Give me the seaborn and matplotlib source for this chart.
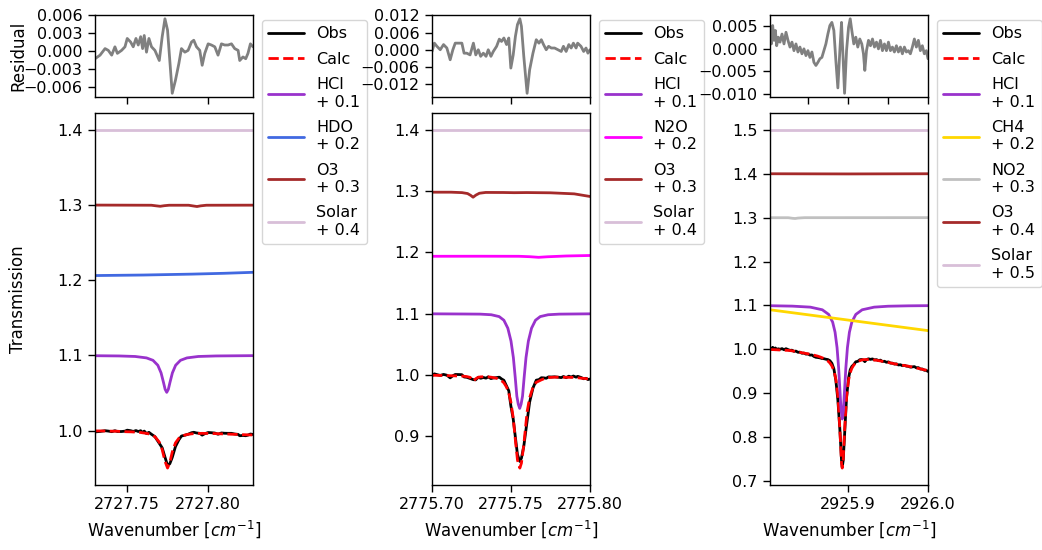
import numpy as np
import matplotlib
matplotlib.use("Agg")
import matplotlib.pyplot as plt
import seaborn as sns

# ---------------- panel 1 : 2727.8 cm-1 window ----------------
wn_1 = [2727.7302, 2727.7333, 2727.7364, 2727.7384, 2727.7405, 2727.7425, 2727.7440, 2727.7466, 2727.7487, 2727.7501,
        2727.7522, 2727.7538, 2727.7555, 2727.7569, 2727.7584, 2727.7596, 2727.7606, 2727.7620, 2727.7635, 2727.7651,
        2727.7672, 2727.7699, 2727.7717, 2727.7734, 2727.7750, 2727.7764, 2727.7779, 2727.7799, 2727.7820, 2727.7836,
        2727.7857, 2727.7877, 2727.7898, 2727.7912, 2727.7929, 2727.7949, 2727.7964, 2727.7980, 2727.8001, 2727.8021,
        2727.8042, 2727.8062, 2727.8083, 2727.8103, 2727.8124, 2727.8145, 2727.8165, 2727.8186, 2727.8196, 2727.8216,
        2727.8233, 2727.8247, 2727.8262, 2727.8278]
calc_1 = [0.9997, 0.9997, 0.9996, 0.9994, 0.9994, 0.9993, 0.9993, 0.9988, 0.9987, 0.9986,
          0.9985, 0.9983, 0.9981, 0.9979, 0.9976, 0.9972, 0.9969, 0.9964, 0.9957, 0.9945,
          0.9920, 0.9848, 0.9748, 0.9596, 0.9503, 0.9577, 0.9715, 0.9838, 0.9900, 0.9925,
          0.9942, 0.9952, 0.9958, 0.9961, 0.9963, 0.9964, 0.9965, 0.9964, 0.9964, 0.9963,
          0.9962, 0.9960, 0.9958, 0.9956, 0.9955, 0.9953, 0.9952, 0.9950, 0.9949, 0.9947,
          0.9946, 0.9945, 0.9944, 0.9943]
resid_1 = [-0.0013, -0.0007, 0.0004, 0.0001, -0.0007, 0.0007, -0.0004, 0.0001, 0.0007, 0.0021,
           0.0015, 0.0007, 0.0021, 0.0010, 0.0024, 0.0004, 0.0026, -0.0002, 0.0021, 0.0007,
           0.0001, -0.0016, 0.0024, 0.0054, 0.0035, -0.0016, -0.0071, -0.0049, -0.0021, 0.0004,
           -0.0002, 0.0001, 0.0015, 0.0018, 0.0007, 0.0001, -0.0024, -0.0004, 0.0012, 0.0010,
           0.0007, -0.0007, 0.0012, 0.0010, 0.0010, 0.0012, 0.0004, 0.0001, -0.0016, -0.0010,
           -0.0013, -0.0004, 0.0012, 0.0007]
hcl_1_wn = [2727.7302, 2727.745, 2727.755, 2727.762, 2727.766, 2727.769, 2727.771, 2727.7725, 2727.7735, 2727.7745,
            2727.7755, 2727.7765, 2727.778, 2727.780, 2727.783, 2727.787, 2727.794, 2727.805, 2727.8278]
hcl_1 = [1.0997, 1.0994, 1.0987, 1.0968, 1.0936, 1.0870, 1.0769, 1.0642, 1.0551, 1.0510,
         1.0551, 1.0642, 1.0769, 1.0870, 1.0936, 1.0968, 1.0987, 1.0994, 1.0998]
hdo_1_wn = [2727.7302, 2727.760, 2727.790, 2727.810, 2727.8278]
hdo_1 = [1.2063, 1.2070, 1.2082, 1.2093, 1.2106]
o3_1_wn = [2727.7302, 2727.765, 2727.768, 2727.7705, 2727.773, 2727.776, 2727.788, 2727.791, 2727.7932, 2727.7955,
           2727.799, 2727.8278]
o3_1 = [1.3000, 1.2998, 1.2990, 1.2984, 1.2992, 1.2998, 1.2998, 1.2988, 1.2981, 1.2990, 1.2998, 1.2999]
solar_1_wn = [2727.7302, 2727.8278]
solar_1 = [1.4000, 1.4000]

# ---------------- panel 2 : 2775.75 cm-1 window ----------------
wn_2 = [2775.7000, 2775.7015, 2775.7031, 2775.7052, 2775.7073, 2775.7094, 2775.7115, 2775.7132, 2775.7147, 2775.7168,
        2775.7189, 2775.7203, 2775.7220, 2775.7241, 2775.7262, 2775.7277, 2775.7293, 2775.7308, 2775.7325, 2775.7342,
        2775.7356, 2775.7373, 2775.7388, 2775.7409, 2775.7426, 2775.7440, 2775.7455, 2775.7472, 2775.7486, 2775.7499,
        2775.7514, 2775.7528, 2775.7541, 2775.7556, 2775.7566, 2775.7581, 2775.7602, 2775.7618, 2775.7639, 2775.7660,
        2775.7677, 2775.7692, 2775.7706, 2775.7723, 2775.7738, 2775.7755, 2775.7776, 2775.7797, 2775.7818, 2775.7832,
        2775.7849, 2775.7866, 2775.7881, 2775.7895, 2775.7912, 2775.7922, 2775.7943, 2775.7960, 2775.7975, 2775.7987,
        2775.8000]
calc_2 = [0.9991, 0.9991, 0.9990, 0.9989, 0.9987, 0.9986, 0.9984, 0.9983, 0.9981, 0.9980,
          0.9978, 0.9975, 0.9970, 0.9957, 0.9896, 0.9935, 0.9959, 0.9965, 0.9967, 0.9967,
          0.9965, 0.9960, 0.9953, 0.9941, 0.9923, 0.9903, 0.9868, 0.9797, 0.9697, 0.9557,
          0.9296, 0.8926, 0.8606, 0.8475, 0.8555, 0.8855, 0.9395, 0.9624, 0.9794, 0.9876,
          0.9897, 0.9916, 0.9931, 0.9942, 0.9953, 0.9957, 0.9960, 0.9960, 0.9959, 0.9959,
          0.9958, 0.9958, 0.9957, 0.9956, 0.9954, 0.9951, 0.9944, 0.9940, 0.9936, 0.9933,
          0.9930]
resid_2 = [-0.0006, 0.0023, 0.0012, 0.0000, 0.0018, 0.0006, -0.0035, 0.0000, 0.0023, 0.0023,
           0.0023, -0.0012, -0.0012, -0.0018, 0.0023, -0.0018, 0.0000, -0.0023, -0.0012, -0.0023,
           0.0000, -0.0023, -0.0006, 0.0012, 0.0037, 0.0029, 0.0041, 0.0018, 0.0041, -0.0064,
           -0.0018, 0.0047, 0.0088, 0.0108, 0.0082, -0.0023, -0.0152, -0.0070, -0.0012, 0.0035,
           0.0023, 0.0035, 0.0018, 0.0000, 0.0012, 0.0006, 0.0006, 0.0000, -0.0006, 0.0012,
           -0.0006, 0.0018, 0.0006, 0.0023, 0.0006, 0.0023, 0.0012, -0.0006, 0.0006, -0.0012,
           0.0000]
hcl_2_wn = [2775.700, 2775.7205, 2775.7305, 2775.7375, 2775.7425, 2775.7455, 2775.748, 2775.750, 2775.7515, 2775.7527,
            2775.7537, 2775.7546, 2775.7555, 2775.7564, 2775.7573, 2775.7583, 2775.7595, 2775.761, 2775.763, 2775.7655,
            2775.7685, 2775.7735, 2775.7805, 2775.800]
hcl_2 = [1.0995, 1.0992, 1.0990, 1.0980, 1.0950, 1.0890, 1.0760, 1.0550, 1.0280, 0.9950,
         0.9650, 0.9520, 0.9450, 0.9520, 0.9650, 0.9950, 1.0280, 1.0550, 1.0760, 1.0890,
         1.0950, 1.0980, 1.0990, 1.0995]
n2o_2_wn = [2775.700, 2775.730, 2775.755, 2775.762, 2775.7675, 2775.773, 2775.785, 2775.800]
n2o_2 = [1.1935, 1.1936, 1.1935, 1.1928, 1.1918, 1.1927, 1.1940, 1.1948]
o3_2_wn = [2775.700, 2775.712, 2775.719, 2775.7225, 2775.7245, 2775.7260, 2775.7278, 2775.7300, 2775.734, 2775.745,
           2775.752, 2775.760, 2775.775, 2775.790, 2775.800]
o3_2 = [1.2982, 1.2982, 1.2975, 1.2960, 1.2930, 1.2900, 1.2935, 1.2965, 1.2978, 1.2977,
        1.2974, 1.2976, 1.2972, 1.2955, 1.2912]
solar_2_wn = [2775.700, 2775.800]
solar_2 = [1.4000, 1.4000]

# ---------------- panel 3 : 2925.9 cm-1 window ----------------
wn_3 = [2925.8020, 2925.8037, 2925.8053, 2925.8070, 2925.8087, 2925.8103, 2925.8124, 2925.8145, 2925.8170, 2925.8195,
        2925.8220, 2925.8245, 2925.8270, 2925.8295, 2925.8320, 2925.8345, 2925.8370, 2925.8395, 2925.8420, 2925.8445,
        2925.8470, 2925.8495, 2925.8520, 2925.8545, 2925.8570, 2925.8595, 2925.8620, 2925.8645, 2925.8670, 2925.8695,
        2925.8720, 2925.8745, 2925.8770, 2925.8795, 2925.8820, 2925.8845, 2925.8870, 2925.8895, 2925.8916, 2925.8925, 2925.8937,
        2925.8954, 2925.8979, 2925.9004, 2925.9025, 2925.9045, 2925.9070, 2925.9095, 2925.9120, 2925.9145, 2925.9170,
        2925.9191, 2925.9208, 2925.9229, 2925.9254, 2925.9279, 2925.9304, 2925.9329, 2925.9354, 2925.9379, 2925.9404,
        2925.9429, 2925.9454, 2925.9479, 2925.9504, 2925.9529, 2925.9554, 2925.9579, 2925.9604, 2925.9629, 2925.9654,
        2925.9679, 2925.9704, 2925.9729, 2925.9754, 2925.9779, 2925.9804, 2925.9829, 2925.9854, 2925.9879, 2925.9904,
        2925.9929, 2925.9954, 2925.9979, 2926.0000]
calc_3 = [0.9995, 0.9994, 0.9992, 0.9991, 0.9989, 0.9988, 0.9985, 0.9984, 0.9982, 0.9979,
          0.9976, 0.9974, 0.9971, 0.9964, 0.9956, 0.9947, 0.9938, 0.9930, 0.9920, 0.9913,
          0.9904, 0.9896, 0.9886, 0.9877, 0.9866, 0.9854, 0.9842, 0.9826, 0.9809, 0.9789,
          0.9762, 0.9732, 0.9688, 0.9622, 0.9513, 0.9318, 0.8934, 0.8182, 0.7408, 0.7292, 0.7491,
          0.8138, 0.8902, 0.9294, 0.9466, 0.9566, 0.9642, 0.9689, 0.9720, 0.9740, 0.9756,
          0.9764, 0.9766, 0.9766, 0.9764, 0.9762, 0.9758, 0.9754, 0.9749, 0.9741, 0.9733,
          0.9725, 0.9716, 0.9707, 0.9698, 0.9688, 0.9679, 0.9669, 0.9660, 0.9649, 0.9644,
          0.9636, 0.9630, 0.9622, 0.9614, 0.9604, 0.9594, 0.9583, 0.9573, 0.9563, 0.9553,
          0.9543, 0.9533, 0.9523, 0.9515]
resid_3 = [0.0037, 0.0011, 0.0052, 0.0019, 0.0041, 0.0007, 0.0026, 0.0015, 0.0033, 0.0011,
           0.0037, 0.0019, 0.0004, 0.0015, -0.0004, 0.0011, -0.0007, 0.0004, -0.0011, 0.0000,
           -0.0015, -0.0004, -0.0019, -0.0007, -0.0030, -0.0037, -0.0030, -0.0022, -0.0019, -0.0004,
           0.0011, 0.0033, 0.0052, 0.0059, 0.0041, -0.0026, -0.0087, -0.0004, 0.0059, 0.0020, -0.0026,
           -0.0099, -0.0004, 0.0048, 0.0067, 0.0041, 0.0011, 0.0026, 0.0004, 0.0022, 0.0011,
           -0.0011, -0.0048, -0.0004, 0.0019, 0.0007, 0.0022, 0.0004, 0.0015, 0.0000, 0.0019,
           -0.0004, 0.0011, -0.0004, 0.0015, -0.0004, 0.0004, -0.0007, 0.0007, -0.0007, 0.0004,
           -0.0011, 0.0004, -0.0007, -0.0004, -0.0011, 0.0004, 0.0022, 0.0004, 0.0019, -0.0004,
           0.0007, -0.0011, -0.0004, -0.0022]
hcl_3_wn = [2925.803, 2925.830, 2925.8525, 2925.8675, 2925.8755, 2925.8805, 2925.8835, 2925.886, 2925.888, 2925.8895,
            2925.891, 2925.8925, 2925.894, 2925.8955, 2925.897, 2925.899, 2925.9015, 2925.9045, 2925.9095, 2925.9175,
            2925.9325, 2925.950, 2925.975, 2926.000]
hcl_3 = [1.0992, 1.0983, 1.0960, 1.0900, 1.0794, 1.0617, 1.0389, 1.0037, 0.9569, 0.9096,
         0.8624, 0.8410, 0.8624, 0.9096, 0.9569, 1.0037, 1.0389, 1.0617, 1.0794, 1.0900,
         1.0960, 1.0981, 1.0990, 1.0994]
ch4_3_wn = [2925.802, 2925.900, 2926.000]
ch4_3 = [1.0900, 1.0665, 1.0425]
no2_3_wn = [2925.802, 2925.825, 2925.830, 2925.8335, 2925.837, 2925.845, 2926.000]
no2_3 = [1.2998, 1.2998, 1.2985, 1.2980, 1.2990, 1.2999, 1.3000]
o3_3_wn = [2925.802, 2925.900, 2926.000]
o3_3 = [1.4000, 1.3996, 1.4000]
solar_3_wn = [2925.802, 2926.000]
solar_3 = [1.5000, 1.5000]

sns.set_style("ticks", {"axes.edgecolor": "black", "xtick.color": "black", "ytick.color": "black",
                        "text.color": "black", "axes.labelcolor": "black"})
plt.rcParams["font.family"] = ["DejaVu Sans"]
plt.rcParams["font.size"] = 11.5
plt.rcParams["axes.labelsize"] = 12
plt.rcParams["axes.linewidth"] = 1.0
plt.rcParams["xtick.major.size"] = 5
plt.rcParams["ytick.major.size"] = 5
plt.rcParams["xtick.major.width"] = 1.0
plt.rcParams["ytick.major.width"] = 1.0
plt.rcParams["xtick.major.pad"] = 4
plt.rcParams["ytick.major.pad"] = 4

fig = plt.figure(figsize=(10.42, 5.5), dpi=100)


def draw_panel(left, wn, calc, resid, species, res_yticks, res_xticks, main_xticks, main_yticks, first=False):
    ax_r = fig.add_axes([left, 0.8236, 0.1516, 0.149])
    ax_m = fig.add_axes([left, 0.1182, 0.1516, 0.6764])

    obs = np.array(calc) + np.array(resid)   # residual = obs - calc

    sns.lineplot(x=wn, y=resid, ax=ax_r, color="gray", lw=2)
    sns.lineplot(x=wn, y=obs, ax=ax_m, color="black", lw=2, label="Obs")
    sns.lineplot(x=wn, y=calc, ax=ax_m, color="red", lw=2, ls="--", label="Calc")
    for sx, sy, lab, col in species:
        sns.lineplot(x=sx, y=sy, ax=ax_m, color=col, lw=2, label=lab)

    for ax in (ax_r, ax_m):
        ax.set_xlim(wn[0], wn[-1])
    ax_r.set_xticks(res_xticks)
    ax_r.tick_params(labelbottom=False)
    ax_r.set_yticks(res_yticks)

    ax_m.set_xticks(main_xticks)
    ax_m.set_yticks(main_yticks)
    ax_m.ticklabel_format(axis="x", useOffset=False)
    ax_m.set_xlabel("Wavenumber [$cm^{-1}$]")

    handles, labels = ax_m.get_legend_handles_labels()
    ax_m.get_legend().remove()
    ax_r.legend(handles, labels, loc="upper left", bbox_to_anchor=(1.057, 0.94),
                borderaxespad=0, handlelength=2.2, labelspacing=0.65)

    if first:
        ax_r.set_ylabel("Residual")
        ax_m.set_ylabel("Transmission")
        ax_r.yaxis.set_label_coords(-0.43, 0.5)
        ax_m.yaxis.set_label_coords(-0.43, 0.5)


draw_panel(0.0912, wn_1, calc_1, resid_1,
           [(hcl_1_wn, hcl_1, "HCl\n+ 0.1", "darkorchid"),
            (hdo_1_wn, hdo_1, "HDO\n+ 0.2", "royalblue"),
            (o3_1_wn, o3_1, "O3\n+ 0.3", "brown"),
            (solar_1_wn, solar_1, "Solar\n+ 0.4", "thistle")],
           [-0.006, -0.003, 0.0, 0.003, 0.006], [2727.75, 2727.80], [2727.75, 2727.80],
           [1.0, 1.1, 1.2, 1.3, 1.4], first=True)

draw_panel(0.4146, wn_2, calc_2, resid_2,
           [(hcl_2_wn, hcl_2, "HCl\n+ 0.1", "darkorchid"),
            (n2o_2_wn, n2o_2, "N2O\n+ 0.2", "magenta"),
            (o3_2_wn, o3_2, "O3\n+ 0.3", "brown"),
            (solar_2_wn, solar_2, "Solar\n+ 0.4", "thistle")],
           [-0.012, -0.006, 0.0, 0.006, 0.012], [2775.70, 2775.75, 2775.80], [2775.70, 2775.75, 2775.80],
           [0.9, 1.0, 1.1, 1.2, 1.3, 1.4])

draw_panel(0.739, wn_3, calc_3, resid_3,
           [(hcl_3_wn, hcl_3, "HCl\n+ 0.1", "darkorchid"),
            (ch4_3_wn, ch4_3, "CH4\n+ 0.2", "gold"),
            (no2_3_wn, no2_3, "NO2\n+ 0.3", "silver"),
            (o3_3_wn, o3_3, "O3\n+ 0.4", "brown"),
            (solar_3_wn, solar_3, "Solar\n+ 0.5", "thistle")],
           [-0.010, -0.005, 0.0, 0.005], [2925.85, 2925.90, 2925.95, 2926.0], [2925.9, 2926.0],
           [0.7, 0.8, 0.9, 1.0, 1.1, 1.2, 1.3, 1.4, 1.5])

fig.savefig("out.png", dpi=100)
